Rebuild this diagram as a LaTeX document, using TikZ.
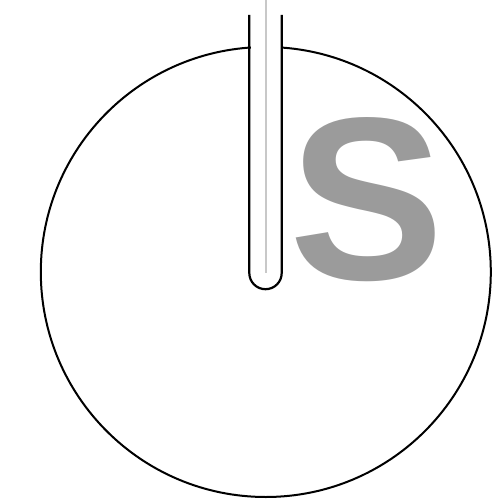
\documentclass[tikz,border=0pt]{standalone}
\usepackage{fontspec}
\newfontfamily\letterfont{Liberation Sans}
\usetikzlibrary{
  calc
}
\definecolor{ink}{HTML}{000000}
\definecolor{paper}{HTML}{FFFFFF}
\definecolor{rod}{HTML}{C8C8C8}
\definecolor{lettergrey}{HTML}{9B9B9B}
\tikzset{
  rim/.style={
    draw=ink,
    line width=2pt
  },
  wall/.style={
    draw=ink,
    line width=2.2pt
  },
  core/.style={
    draw=rod,
    line width=1.6pt
  },
  biglabel/.style={
    text=lettergrey,
    inner sep=0pt,
    font=\letterfont\bfseries\fontsize{232}{232}\selectfont
  }
}

\begin{document}
\begin{tikzpicture}[x=1pt, y=-1pt]
  \useasboundingbox (0,0) rectangle (495,503);

  % dish outline
  \coordinate (centre) at (265.8,272);
  \draw[rim] (centre) circle[radius=225];

  % tube
  \fill[paper] (250.5,0) rectangle (280.5,280);
  \draw[wall] (249.3,15) -- (249.3,273)
    arc[start angle=180, end angle=0, radius=16.2] -- (281.7,15);
  \draw[core] (266,0) -- (266,273);

  % letter
  \node[biglabel] (mark) at (366.5,199.5) {S};
\end{tikzpicture}
\end{document}
